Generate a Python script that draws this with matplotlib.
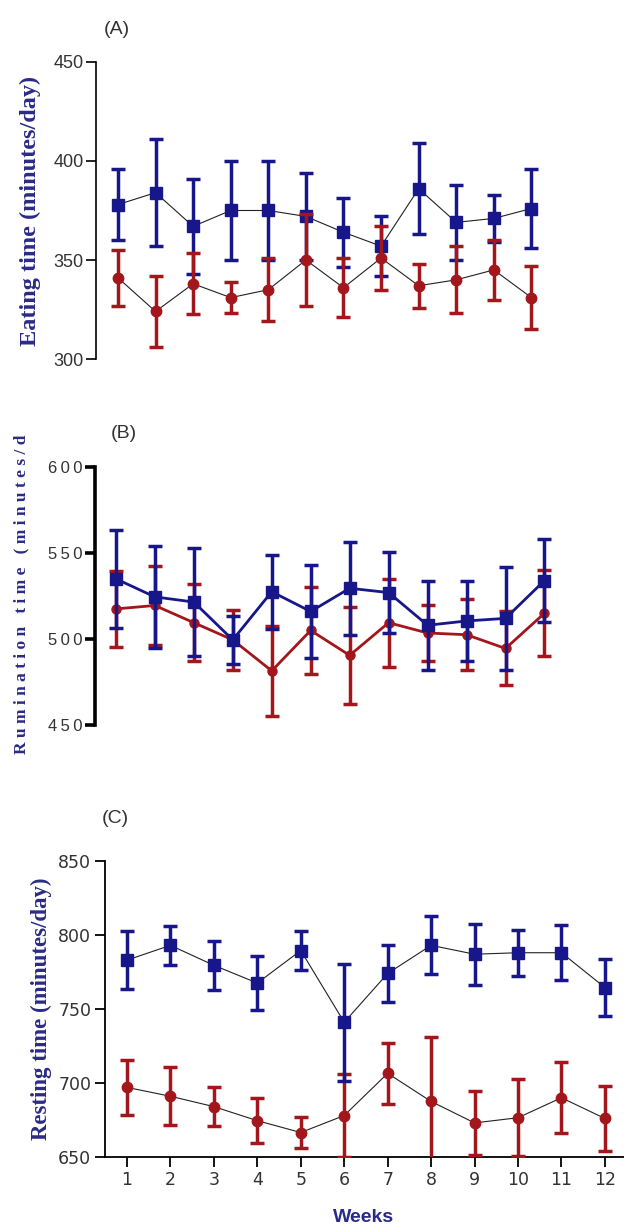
import numpy as np
import matplotlib
matplotlib.use("Agg")
import matplotlib.pyplot as plt

# data (mean and SE per week)
weeks = np.arange(1, 13)

eat_blue = [378, 384, 367, 375, 375, 372, 364, 357, 386, 369, 371, 376]
eat_blue_err = [18, 27, 24, 25, 25, 22, 17.5, 15, 23, 19, 12, 20]
eat_red = [341, 324, 338, 331, 335, 350, 336, 351, 337, 340, 345, 331]
eat_red_err = [14, 18, 15.5, 8, 16, 23, 15, 16, 11, 17, 15, 16]

rum_blue = [535, 524.5, 521.5, 499.5, 527.5, 516, 529.5, 527, 508, 510.5, 512, 534]
rum_blue_err = [28.5, 29.5, 31.5, 14, 21.5, 27, 27, 23.5, 26, 23, 30, 24]
rum_red = [517.5, 519.5, 509.5, 499.5, 481.5, 505, 490.5, 509.5, 503.5, 502.5, 494.5, 515]
rum_red_err = [22, 23, 22.5, 17.5, 26, 25.5, 28, 25.5, 16.5, 20.5, 21.5, 25]

rest_blue = [783, 793, 779.5, 767.5, 789.5, 741, 774, 793, 787, 788, 788, 764.5]
rest_blue_err = [19.5, 13, 16.5, 18.5, 13, 39.5, 19, 19.5, 20.5, 15.5, 18.5, 19]
rest_red = [697, 691, 684, 674.5, 666.5, 678, 706.5, 687.5, 673, 676.5, 690, 676]
rest_red_err = [18.5, 19.5, 13, 15, 10.5, 28, 20.5, 43.5, 21.7, 26, 24, 22]

BLUE = "#17168a"
RED = "#a3161b"
NAVY_TXT = "#2b2a86"
TICK_C = "#333333"

fig = plt.figure(figsize=(6.24, 12.27), dpi=100)


def spaced(s, sep=" "):
    return sep.join(s)


def draw(ax, blue, berr, red, rerr, line_c, lw, ms_sq, ms_ci, red_top):
    kw = dict(capsize=5, elinewidth=2.5, capthick=2.5, linestyle="none")
    zb, zr = (3, 4) if red_top else (4, 3)
    if line_c is None:
        ax.plot(weeks, blue, color=BLUE, lw=lw, zorder=zb)
        ax.plot(weeks, red, color=RED, lw=lw, zorder=zr)
    else:
        ax.plot(weeks, blue, color=line_c, lw=lw, zorder=zb)
        ax.plot(weeks, red, color=line_c, lw=lw, zorder=zr)
    ax.errorbar(weeks, blue, yerr=berr, marker="s", ms=ms_sq, color=BLUE, zorder=zb, **kw)
    ax.errorbar(weeks, red, yerr=rerr, marker="o", ms=ms_ci, color=RED, zorder=zr, **kw)
    for s in ["top", "right", "bottom"]:
        ax.spines[s].set_visible(False)


# (A) eating time
axA = fig.add_axes([0.1538, 0.7074, 0.734, 0.2421])
draw(axA, eat_blue, eat_blue_err, eat_red, eat_red_err, "#222222", 0.8, 9, 7.5, True)
axA.set_xlim(0.415, 12.6)
axA.set_ylim(300, 450)
axA.set_yticks([300, 350, 400, 450])
axA.set_xticks([])
axA.spines["left"].set_linewidth(1.2)
axA.tick_params(axis="y", direction="out", length=7, width=1.2, colors="black", pad=2)
for t in axA.get_yticklabels():
    t.set_family(["Liberation Sans Narrow", "Liberation Sans"])
    t.set_fontsize(13)
    t.set_color(TICK_C)

# (B) rumination time
axB = fig.add_axes([0.152, 0.4091, 0.758, 0.2103])
draw(axB, rum_blue, rum_blue_err, rum_red, rum_red_err, None, 2.0, 8, 6.5, False)
axB.set_xlim(0.46, 12.6)
axB.set_ylim(450, 600)
b_ticks = [450, 500, 550, 600]
axB.set_yticks(b_ticks)
axB.set_yticklabels([spaced(str(v), "\u2009") for v in b_ticks],
                    family=["Liberation Sans", "DejaVu Sans"], fontsize=12, color=TICK_C)
axB.set_xticks([])
axB.spines["left"].set_linewidth(2.6)
axB.tick_params(axis="y", direction="out", length=7, width=2.6, colors="black", pad=2)
for t in axB.get_yticklabels():
    t.set_color(TICK_C)

# (C) resting time
axC = fig.add_axes([0.1683, 0.0571, 0.8317, 0.2412])
draw(axC, rest_blue, rest_blue_err, rest_red, rest_red_err, "#222222", 0.8, 8.5, 7.5, False)
axC.spines["bottom"].set_visible(True)
axC.set_xlim(0.494, 12.44)
axC.set_ylim(650, 850)
axC.set_yticks([650, 700, 750, 800, 850])
axC.set_xticks(weeks)
for s in ["left", "bottom"]:
    axC.spines[s].set_linewidth(1.3)
axC.tick_params(direction="out", length=7, width=1.3, colors="black", labelsize=12.5, pad=3)
for t in axC.get_yticklabels() + axC.get_xticklabels():
    t.set_color(TICK_C)

# y labels
fig.text(0.048, 0.828, "Eating time (minutes/day)", rotation=90, ha="center", va="center",
         family="Liberation Serif", fontweight="bold", fontsize=17.5, color=NAVY_TXT)
rum_label = "   ".join(spaced(w) for w in ["Rumination", "time", "(minutes/d"])
fig.text(0.035, 0.516, rum_label, rotation=90, ha="center", va="center",
         family="Liberation Serif", fontweight="bold", fontsize=12.5, color=NAVY_TXT)
fig.text(0.067, 0.178, "Resting time (minutes/day)", rotation=90, ha="center", va="center",
         family="Liberation Serif", fontweight="bold", fontsize=16.5, color=NAVY_TXT)

# panel letters
for x, y, lab in [(0.1875, 0.9756, "(A)"), (0.199, 0.647, "(B)"), (0.184, 0.333, "(C)")]:
    fig.text(x, y, lab, ha="center", va="center", fontsize=14, color="#333333",
             family="Liberation Sans")

fig.text(0.582, 0.0075, "Weeks", ha="center", va="center", fontsize=14, fontweight="bold",
         color=NAVY_TXT, family="Liberation Sans")

fig.savefig("out.png", dpi=100)
